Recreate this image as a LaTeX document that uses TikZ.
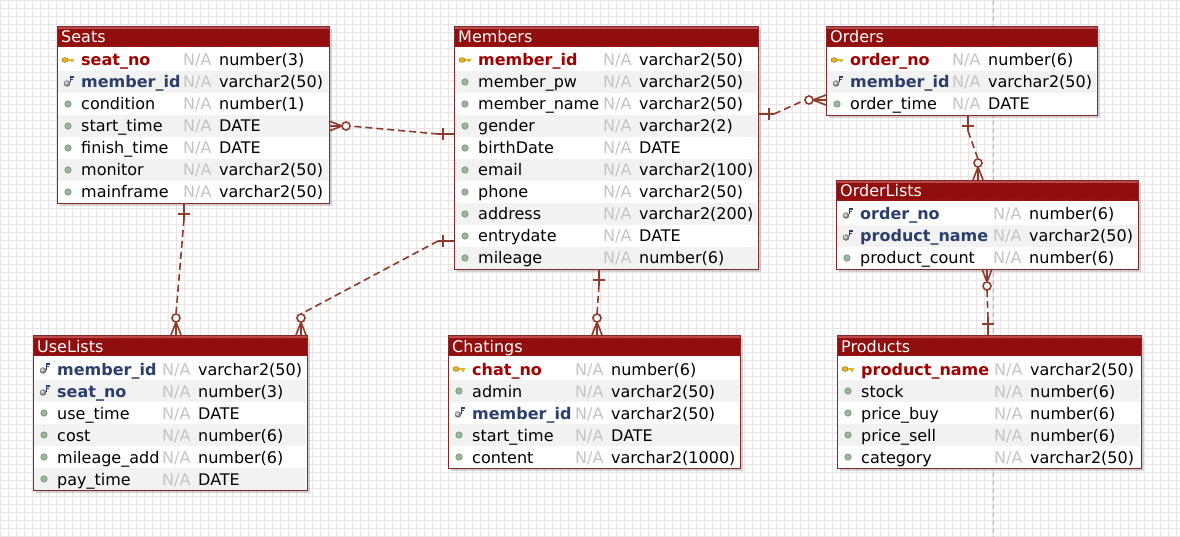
\documentclass[tikz,border=0pt]{standalone}
\usepackage{fontspec}
\setmainfont{DejaVu Sans}
\usepackage{tikz}
\usetikzlibrary{shadows,patterns}
\definecolor{pkred}{HTML}{A00000}
\definecolor{fkblue}{HTML}{2B3F6C}
\definecolor{natext}{HTML}{C4C4C4}
\definecolor{relcol}{HTML}{8E3A2C}
\definecolor{titlered}{HTML}{9A1212}
\definecolor{titletop}{HTML}{BC4A4A}
\definecolor{titlestripe}{HTML}{820808}
\definecolor{rowgray}{HTML}{F2F2F2}
\definecolor{gridcol}{HTML}{EAE4E4}
\definecolor{edgecol}{HTML}{7E2A2A}
\definecolor{dotgreen}{HTML}{9CB89C}
\definecolor{dotedge}{HTML}{6E8C6E}
\definecolor{keygold}{HTML}{E2B52A}
\definecolor{keyedge}{HTML}{9A7410}
\AtBeginDocument{\fontsize{16}{19}\selectfont}

\newcommand{\rowfontpk}{\bfseries\color{pkred}}
\newcommand{\rowfontfk}{\bfseries\color{fkblue}}
\newcommand{\rowfontcol}{}
\newcommand{\rowiconcol}[2]{\draw[fill=dotgreen, draw=dotedge, line width=0.6pt] (#1,#2) circle (3.2);}
\newcommand{\rowiconpk}[2]{%
  \draw[fill=keygold, draw=keyedge, line width=0.5pt] (#1-3,#2) ellipse (3 and 2.4);
  \fill[keygold] (#1,#2-1) rectangle (#1+6,#2+1);
  \fill[keygold] (#1+3,#2+1) rectangle (#1+4.5,#2+2.5);}
\newcommand{\rowiconfk}[2]{%
  \shade[ball color=gray!60] (#1-1,#2+1.5) circle (3.2);
  \draw[fkblue, line width=1.2pt] (#1+2.5,#2+0.5) -- (#1+2.5,#2-5) -- (#1+5.5,#2-5) (#1+2.5,#2-2.5) -- (#1+5,#2-2.5);}

\newcommand{\errow}[4]{%
  \pgfmathsetmacro{\rowY}{\tabT+34+22*(#1-1)}
  \ifodd#1\else\fill[rowgray] (\tabL+1,\rowY-11) rectangle (\tabL+\tabW-1,\rowY+11);\fi
  \csname rowicon#2\endcsname{\tabL+11}{\rowY}
  \node[cell] (\tabId-#1) at (\tabL+24,\rowY+6) {\csname rowfont#2\endcsname #3};
  \node[cell, text=natext] (\tabId-#1-na) at (\tabL+\tabN,\rowY+6) {N/A};
  \node[cell] (\tabId-#1-ty) at (\tabL+\tabN+36,\rowY+6) {#4};
}

\newcommand{\ertable}[8]{%
  \def\tabId{#1}\def\tabL{#3}\def\tabT{#4}\def\tabW{#5}\def\tabN{#7}
  \pgfmathsetmacro{\tabH}{23+22*#6}
  \node[tablebox, minimum width=#5pt, minimum height=\tabH pt, anchor=north west] (#1) at (#3,#4) {};
  \fill[titlered] (#3,#4) rectangle ++(#5,21);
  \fill[pattern=north east lines, pattern color=titlestripe] (#3,#4+4) rectangle ++(#5,15);
  \fill[titletop] (#3,#4) rectangle ++(#5,3);
  \node[titletext] (#1-title) at (#3+4,#4+17) {#2};
  \foreach \ky/\nm/\ty [count=\i] in {#8} {\errow{\i}{\ky}{\nm}{\ty}}
  \draw[tableedge] (#1.north west) rectangle (#1.south east);
}

\begin{document}
\begin{tikzpicture}[x=1pt, y=-1pt,
    tablebox/.style={rectangle, fill=white, inner sep=0pt, outer sep=0pt,
      drop shadow={shadow xshift=3pt, shadow yshift=-3pt, opacity=0.35}},
    tableedge/.style={draw=edgecol, line width=0.9pt},
    titletext/.style={anchor=base west, inner sep=0pt, text=white},
    cell/.style={anchor=base west, inner sep=0pt},
    rel/.style={draw=relcol, line width=1.6pt},
    reldash/.style={rel, dash pattern=on 7pt off 4pt},
    pagebreak/.style={draw=gray!55, line width=0.8pt, dash pattern=on 5pt off 3pt},
    zmany/.pic={\draw[rel] (0,-5) -- (13,0) -- (0,5) (0,0) -- (13,0);
      \draw[rel, fill=white] (17,0) circle (4); \coordinate (-end) at (21,0);},
    onebar/.pic={\draw[rel] (0,0) -- (16,0) (11,-6) -- (11,6); \coordinate (-end) at (16,0);}]
    \useasboundingbox (0,0) rectangle (1180,537);
    \fill[white] (0,0) rectangle (1180,537);
    \draw[gridcol, line width=0.5pt, step=8pt] (0,0) grid (1180,537);
    \draw[pagebreak] (993,0) -- (993,537);

    \ertable{seats}{Seats}{57}{26}{272}{7}{126}{pk/seat\_no/number(3), fk/member\_id/varchar2(50),
      col/condition/number(1), col/start\_time/DATE, col/finish\_time/DATE,
      col/monitor/varchar2(50), col/mainframe/varchar2(50)}
    \ertable{members}{Members}{454}{26}{304}{10}{149}{pk/member\_id/varchar2(50), col/member\_pw/varchar2(50),
      col/member\_name/varchar2(50), col/gender/varchar2(2), col/birthDate/DATE,
      col/email/varchar2(100), col/phone/varchar2(50), col/address/varchar2(200),
      col/entrydate/DATE, col/mileage/number(6)}
    \ertable{orders}{Orders}{826}{26}{271}{3}{126}{pk/order\_no/number(6), fk/member\_id/varchar2(50),
      col/order\_time/DATE}
    \ertable{orderlists}{OrderLists}{836}{180}{302}{3}{157}{fk/order\_no/number(6),
      fk/product\_name/varchar2(50), col/product\_count/number(6)}
    \ertable{uselists}{UseLists}{33}{335}{274}{6}{129}{fk/member\_id/varchar2(50), fk/seat\_no/number(3),
      col/use\_time/DATE, col/cost/number(6), col/mileage\_add/number(6), col/pay\_time/DATE}
    \ertable{chatings}{Chatings}{448}{335}{292}{5}{127}{pk/chat\_no/number(6), col/admin/varchar2(50),
      fk/member\_id/varchar2(50), col/start\_time/DATE, col/content/varchar2(1000)}
    \ertable{products}{Products}{837}{335}{304}{5}{157}{pk/product\_name/varchar2(50), col/stock/number(6),
      col/price\_buy/number(6), col/price\_sell/number(6), col/category/varchar2(50)}

    \pic[rotate=180] (r1a) at (members.west |- 0,134) {onebar};
    \pic (r1b) at (seats.east |- 0,126) {zmany};
    \draw[reldash] (r1a-end) -- (r1b-end);
    \pic (r2a) at (members.east |- 0,114) {onebar};
    \pic[rotate=180] (r2b) at (orders.west |- 0,100) {zmany};
    \draw[reldash] (r2a-end) -- (r2b-end);
    \pic[rotate=-90] (r3a) at (968,0 |- orders.south) {onebar};
    \pic[rotate=90] (r3b) at (978,0 |- orderlists.north) {zmany};
    \draw[reldash] (r3a-end) -- (r3b-end);
    \pic[rotate=-90] (r4a) at (184,0 |- seats.south) {onebar};
    \pic[rotate=90] (r4b) at (176,0 |- uselists.north) {zmany};
    \draw[reldash] (r4a-end) -- (r4b-end);
    \pic[rotate=180] (r5a) at (members.west |- 0,241) {onebar};
    \pic[rotate=90] (r5b) at (301,0 |- uselists.north) {zmany};
    \draw[reldash] (r5a-end) -- (r5b-end);
    \pic[rotate=-90] (r6a) at (599,0 |- members.south) {onebar};
    \pic[rotate=90] (r6b) at (597,0 |- chatings.north) {zmany};
    \draw[reldash] (r6a-end) -- (r6b-end);
    \pic[rotate=90] (r7a) at (988,0 |- products.north) {onebar};
    \pic[rotate=-90] (r7b) at (987,0 |- orderlists.south) {zmany};
    \draw[reldash] (r7a-end) -- (r7b-end);
\end{tikzpicture}
\end{document}
